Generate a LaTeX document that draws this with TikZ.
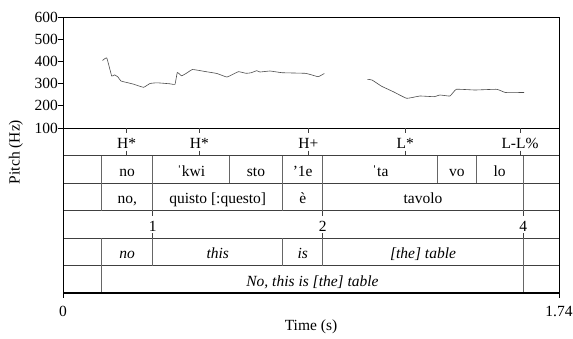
\documentclass[tikz,border=0pt]{standalone}
\usepackage{fontspec}
\setmainfont{Liberation Serif}
\begin{document}
\begin{tikzpicture}[x=1pt,y=-1pt,
  font=\fontsize{15.5}{18}\selectfont,
  frameline/.style={line width=1pt,black},
  tierline/.style={line width=0.6pt,black!75},
  boundline/.style={line width=0.5pt,black!60},
  ticks/.style={line width=0.6pt,black!75},
  lab/.style={anchor=base,inner sep=0pt},
  ilab/.style={anchor=base,inner sep=0pt,font=\fontsize{15.5}{18}\selectfont\itshape},
  pitchline/.style={line width=0.6pt,black!70,line join=round}]
\useasboundingbox (0,0) rectangle (573,338);
% tier lines
\foreach \y in {155.5,183,210.5,238,265.5}
  \draw[tierline] (63,\y) -- (559,\y);
% interval boundaries
\foreach \x in {101.7,152.7,229.3,282.7,322.7,437.7,476,523.3}
  \draw[boundline] (\x,155.5) -- (\x,183);
\foreach \x in {101.7,152.7,282.7,322.7,523.3}
  {\draw[boundline] (\x,183) -- (\x,210.5);
   \draw[boundline] (\x,238) -- (\x,265.5);}
\foreach \x in {101.7,523.3}
  \draw[boundline] (\x,265.5) -- (\x,293);
% frame
\draw[frameline] (63,128) -- (559,128);
\draw[frameline] (63,17) -- (559,17) -- (559,293);
\draw[frameline] (63,17) -- (63,293);
\draw[line width=1.4pt] (63,293) -- (559,293);
% y axis
\foreach \v/\y [count=\i] in {600/17,500/39.2,400/61.4,300/83.6,200/105.8,100/128}
  {\draw[frameline] (58,\y) -- (63,\y);
   \node[anchor=east,inner sep=0pt] (ylab\i) at (58,\y) {\v};}
\node[rotate=90,inner sep=0pt] (ytitle) at (16,152) {Pitch (Hz)};
% x axis
\draw[frameline] (63,293) -- (63,298);
\draw[frameline] (559,293) -- (559,298);
\node[inner sep=0pt] (x0) at (63,311) {0};
\node[inner sep=0pt] (x1) at (559,311) {1.74};
\node[inner sep=0pt] (xtitle) at (311,327) {Time (s)};
% pitch contour
\draw[pitchline] plot[smooth,tension=0.2] coordinates {(102.5,60.5) (106.8,58) (111.7,76) (114.5,74.8) (118,77) (121,81) (133,84) (143.5,87.3) (150,83.5) (157,82.8) (170,83.8) (175,84.3) (177.3,72.5) (181.5,75.8) (186,73.5) (192.5,69.5) (205,71.5) (217,73.5) (227,77) (238.3,71.7) (246,73.3) (251,72.8) (256.7,70.7) (260,72) (270,71) (282,72.7) (305,73.3) (312,75) (318.3,76.7) (324.3,73.5)};
\draw[pitchline] plot[smooth,tension=0.2] coordinates {(367.3,79.3) (372,80) (381.7,86.3) (393.3,91.7) (406.7,98.3) (420,96) (434,96.7) (440,95) (450,96) (456.3,89.3) (475,90) (496.7,89.3) (505.5,92.5) (524,92.5)};
% tier 1: tones (point tier)
\foreach \x/\t [count=\i] in {126.7/{H*},199.3/{H*},308.3/{H+},405.3/{L*},520/{L-L\%}}
  {\draw[ticks] (\x,128) -- (\x,133);
   \draw[ticks] (\x,150.5) -- (\x,155.5);
   \node[lab] (tone\i) at (\x,148) {\t};}
% tier 2: syllables
\foreach \a/\b/\t [count=\i] in {101.7/152.7/no,152.7/229.3/{ˈkwi},229.3/282.7/sto,282.7/322.7/{’1e},322.7/437.7/{ˈta},437.7/476/vo,476/523.3/lo}
  \node[lab] (syl\i) at ({(\a+\b)/2},176) {\t};
% tier 3: words
\foreach \a/\b/\t [count=\i] in {101.7/152.7/{no,},152.7/282.7/{quisto [:questo]},282.7/322.7/{è},322.7/523.3/tavolo}
  \node[lab] (wrd\i) at ({(\a+\b)/2},203.5) {\t};
% tier 4: break indices (point tier)
\foreach \x/\t [count=\i] in {152.7/1,322.7/2,523.3/4}
  {\draw[ticks] (\x,210.5) -- (\x,215.5);
   \draw[ticks] (\x,233) -- (\x,238);
   \node[lab] (brk\i) at (\x,231) {\t};}
% tier 5: gloss
\foreach \a/\b/\t [count=\i] in {101.7/152.7/no,152.7/282.7/this,282.7/322.7/is,322.7/523.3/{[the] table}}
  \node[ilab] (gls\i) at ({(\a+\b)/2},258.5) {\t};
% tier 6: translation
\node[ilab] (trans) at (312.5,286) {No, this is [the] table};
\end{tikzpicture}
\end{document}
